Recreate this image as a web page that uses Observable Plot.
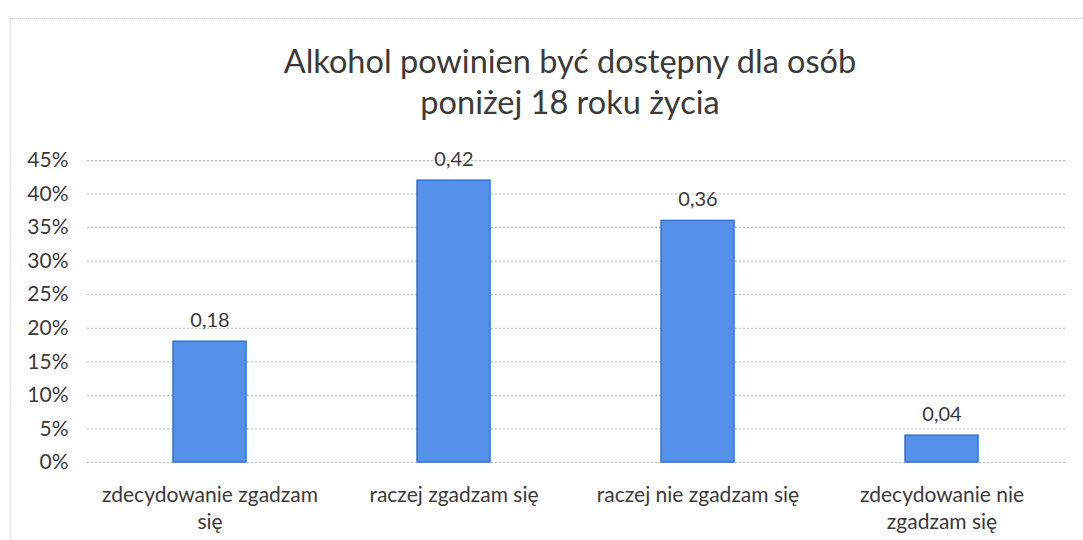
<!DOCTYPE html>
<html>
<head>
<meta charset="utf-8">
<script src="https://cdn.jsdelivr.net/npm/d3@7"></script>
<script src="https://cdn.jsdelivr.net/npm/@observablehq/plot@0.6"></script>
<style>
  html, body { margin: 0; padding: 0; background: #fff; }
  #wrap { position: relative; width: 1083px; height: 540px; overflow: hidden; }
  #frame { position: absolute; left: 10px; top: 18px; width: 1080px; height: 530px;
           border-top: 1px dotted #c8c8c8; border-left: 1px solid #e6e6e6; }
  #title { position: absolute; left: 0; top: 40px; width: 1140px; text-align: center;
           font-family: Lato, "Noto Sans", sans-serif; font-size: 32.5px; line-height: 41px; color: #3a3a3a; }
  #chart { position: absolute; left: 0; top: 140px; }
</style>
</head>
<body>
<div id="wrap">
  <div id="frame"></div>
  <div id="title"></div>
  <div id="chart"></div>
</div>
<script>
const titleLines = ["Alkohol powinien być dostępny dla osób", "poniżej 18 roku życia"];
const categories = ["zdecydowanie zgadzam się", "raczej zgadzam się", "raczej nie zgadzam się", "zdecydowanie nie zgadzam się"];
const categoryLabels = ["zdecydowanie zgadzam\nsię", "raczej zgadzam się", "raczej nie zgadzam się", "zdecydowanie nie\nzgadzam się"];
const values = [0.18, 0.42, 0.36, 0.04];
const valueLabels = ["0,18", "0,42", "0,36", "0,04"];
const yTicks = [0, 0.05, 0.10, 0.15, 0.20, 0.25, 0.30, 0.35, 0.40, 0.45];
const yTickLabels = ["0%", "5%", "10%", "15%", "20%", "25%", "30%", "35%", "40%", "45%"];

document.getElementById("title").innerHTML = titleLines.join("<br>");

const data = categories.map((c, i) => ({category: c, value: values[i], label: valueLabels[i]}));
const catLabelMap = new Map(categories.map((c, i) => [c, categoryLabels[i]]));
const yLabelMap = new Map(yTicks.map((t, i) => [t, yTickLabels[i]]));

const chart = Plot.plot({
  width: 1083,
  height: 400,
  marginTop: 20,
  marginBottom: 78,
  marginLeft: 87,
  marginRight: 18,
  style: {fontFamily: "Lato, 'Noto Sans', sans-serif", color: "#3a3a3a", background: "transparent"},
  x: {domain: categories, paddingInner: 0.7, paddingOuter: 0.35, label: null},
  y: {domain: [0, 0.45], label: null},
  marks: [
    Plot.ruleY(yTicks, {stroke: "#b8b8b8", strokeDasharray: "2,2", strokeWidth: 1}),
    Plot.barY(data, {x: "category", y: "value", fill: "#5591e8", stroke: "#2f74d8", strokeWidth: 1.5}),
    Plot.text(data, {x: "category", y: "value", text: "label", dy: -21, fontSize: 20, fill: "#3a3a3a"}),
    Plot.axisY({ticks: yTicks, tickFormat: d => yLabelMap.get(d), tickSize: 0, tickPadding: 19, fontSize: 21, fill: "#3a3a3a", label: null}),
    Plot.axisX({tickFormat: d => catLabelMap.get(d), tickSize: 0, tickPadding: 20, fontSize: 21, lineHeight: 1.3, fill: "#3a3a3a", label: null})
  ]
});
document.getElementById("chart").appendChild(chart);
</script>
</body>
</html>
